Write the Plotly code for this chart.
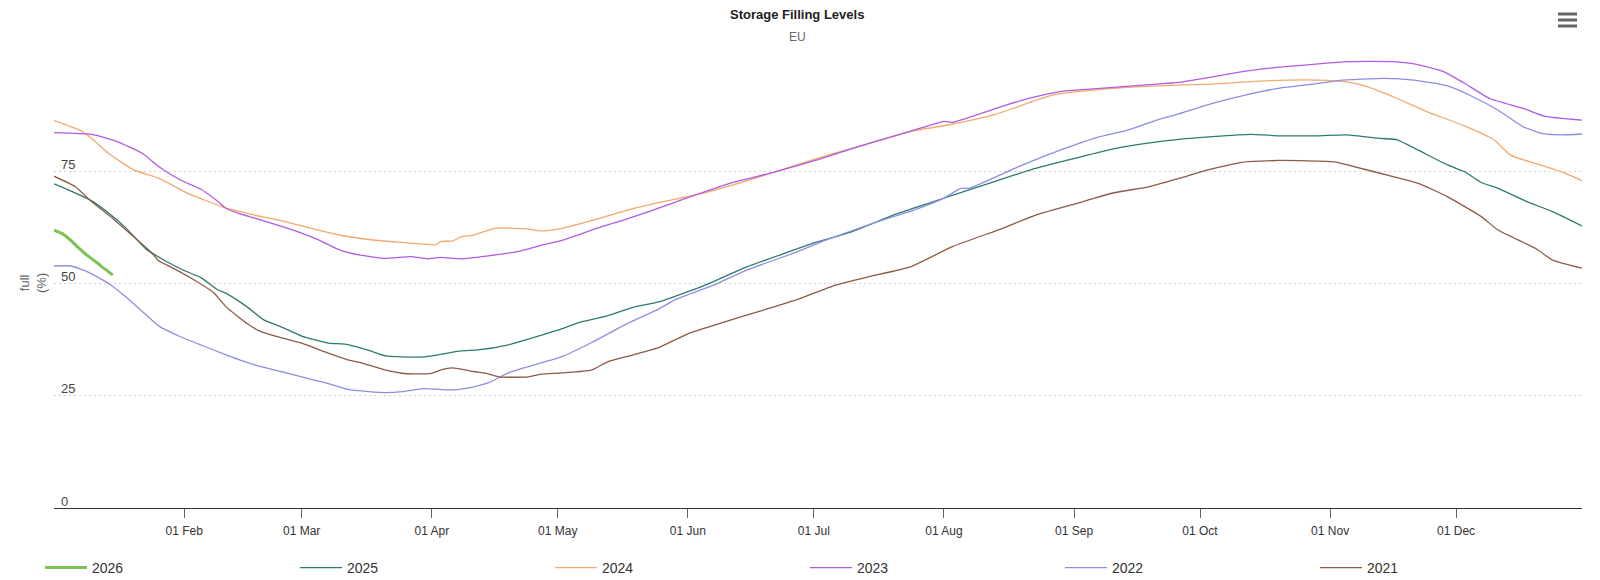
import datetime as dt
import plotly.graph_objects as go

BASE_YEAR = 2021  # common (non-leap) calendar used for the shared Jan..Dec axis

YEARS = ["2026", "2025", "2024", "2023", "2022", "2021"]

# day-of-year offsets (0 = 01 Jan) and storage filling level (%)
DAYS_2026 = [0, 2, 4, 6, 8, 10, 12, 14]
FULL_2026 = [61.9, 61.1, 59.6, 57.8, 56.2, 54.8, 53.3, 51.9]

DAYS_2025 = [0, 5, 9, 13, 17, 22, 27, 31, 35, 39, 41, 46, 50, 54, 59, 65, 70, 75, 79, 87,
             90, 97, 101, 108, 114, 120, 125, 131, 138, 144, 155, 165, 174, 182, 190, 201, 212, 224, 234, 245,
             253, 261, 268, 276, 285, 292, 301, 308, 316, 320, 325, 332, 336, 340, 344, 351, 357, 364]
FULL_2025 = [72.2, 70.2, 68.4, 65.7, 62.5, 57.6, 54.8, 52.9, 51.3, 48.6, 47.8, 44.8, 41.9, 40.4, 38.3, 36.8, 36.4, 35.1, 33.9, 33.6,
             33.9, 35.0, 35.2, 36.3, 37.9, 39.6, 41.3, 42.6, 44.7, 45.9, 49.6, 53.7, 56.7, 59.3, 61.5, 65.6, 69.0, 72.7, 75.7, 78.3,
             80.1, 81.3, 82.1, 82.7, 83.2, 82.9, 82.9, 83.1, 82.3, 82.0, 79.7, 76.4, 74.9, 72.5, 71.2, 68.2, 66.0, 62.8]

DAYS_2024 = [0, 6, 9, 13, 19, 25, 32, 35, 40, 46, 55, 62, 68, 75, 82, 89, 91, 92, 95, 97,
             100, 105, 112, 116, 121, 128, 136, 144, 155, 163, 172, 182, 193, 204, 213, 224, 238, 250, 258, 268,
             276, 284, 294, 301, 308, 313, 320, 327, 336, 343, 347, 354, 359, 364]
FULL_2024 = [86.3, 84.2, 82.3, 79.0, 75.3, 73.4, 70.0, 68.9, 67.1, 65.6, 63.8, 62.1, 60.8, 59.8, 59.2, 58.7, 58.6, 59.3, 59.5, 60.4,
             60.8, 62.3, 62.2, 61.7, 62.3, 64.0, 66.2, 68.0, 70.2, 72.3, 74.9, 77.9, 80.9, 83.9, 85.3, 87.6, 92.0, 93.3, 93.8, 94.2,
             94.4, 94.9, 95.3, 95.3, 94.9, 93.8, 91.2, 88.3, 85.1, 82.0, 78.6, 76.4, 74.9, 72.9]

DAYS_2023 = [0, 9, 15, 21, 25, 30, 35, 39, 41, 44, 48, 55, 59, 63, 68, 73, 79, 85, 89, 92,
             97, 103, 111, 116, 121, 130, 136, 142, 150, 161, 172, 182, 193, 204, 212, 214, 227, 233, 240, 250,
             261, 268, 274, 282, 289, 300, 308, 319, 324, 331, 336, 342, 350, 355, 364]
FULL_2023 = [83.6, 83.2, 81.6, 79.0, 76.0, 73.1, 71.0, 68.3, 66.7, 65.6, 64.5, 62.5, 61.2, 59.7, 57.5, 56.3, 55.6, 56.0, 55.5, 55.8,
             55.5, 56.1, 57.2, 58.5, 59.6, 62.5, 64.2, 66.1, 68.8, 72.3, 74.9, 77.6, 80.9, 83.9, 86.1, 85.9, 89.8, 91.4, 92.8, 93.5,
             94.3, 94.8, 95.7, 97.0, 97.9, 98.8, 99.4, 99.4, 98.9, 97.2, 94.6, 91.2, 89.0, 87.3, 86.4]

DAYS_2022 = [0, 4, 8, 13, 17, 21, 25, 30, 35, 41, 48, 54, 59, 65, 70, 75, 79, 83, 88, 92,
             95, 100, 104, 108, 113, 121, 128, 136, 144, 148, 157, 165, 176, 184, 195, 205, 212, 216, 218, 229,
             240, 248, 256, 263, 268, 276, 284, 292, 300, 306, 317, 324, 332, 338, 344, 350, 355, 359, 364]
FULL_2022 = [53.9, 53.9, 52.6, 50.0, 47.1, 43.8, 40.5, 38.2, 36.3, 34.1, 31.8, 30.4, 29.2, 27.8, 26.4, 25.9, 25.7, 25.9, 26.6, 26.4,
             26.3, 27.0, 28.1, 30.0, 31.5, 33.7, 36.8, 40.8, 44.3, 46.4, 49.6, 53.0, 56.7, 59.7, 63.4, 66.4, 69.0, 71.2, 71.2, 75.7,
             79.8, 82.4, 84.2, 86.5, 87.8, 90.1, 92.0, 93.5, 94.4, 95.2, 95.7, 95.3, 94.0, 91.6, 88.6, 84.9, 83.3, 83.1, 83.3]

DAYS_2021 = [0, 5, 9, 14, 19, 23, 25, 28, 33, 38, 41, 46, 49, 53, 59, 65, 70, 73, 79, 84,
             90, 92, 95, 100, 103, 106, 113, 116, 121, 128, 132, 138, 144, 151, 160, 168, 177, 186, 194, 204,
             214, 226, 234, 245, 252, 261, 268, 274, 279, 283, 292, 305, 309, 319, 325, 332, 340, 344, 353, 357, 364]
FULL_2021 = [73.9, 71.6, 68.2, 64.5, 60.4, 57.1, 55.0, 53.6, 51.0, 48.0, 44.8, 41.1, 39.4, 38.2, 36.7, 34.6, 33.0, 32.4, 30.7, 29.9,
             30.0, 30.7, 31.2, 30.4, 30.0, 29.2, 29.2, 29.8, 30.1, 30.7, 32.6, 34.1, 35.7, 38.8, 41.5, 43.8, 46.4, 49.6, 51.5, 53.7,
             58.2, 62.3, 65.3, 68.2, 70.1, 71.6, 73.4, 75.1, 76.2, 77.0, 77.4, 77.1, 76.2, 73.8, 72.3, 69.3, 64.9, 61.9, 57.8, 55.2, 53.4]

SERIES_DAYS = {"2026": DAYS_2026, "2025": DAYS_2025, "2024": DAYS_2024,
               "2023": DAYS_2023, "2022": DAYS_2022, "2021": DAYS_2021}
SERIES_FULL = {"2026": FULL_2026, "2025": FULL_2025, "2024": FULL_2024,
               "2023": FULL_2023, "2022": FULL_2022, "2021": FULL_2021}

COLORS = {"2026": "#7cc254", "2025": "#2e7b70", "2024": "#f4a86b",
          "2023": "#b05be3", "2022": "#8d8de6", "2021": "#8b5b45"}
WIDTHS = {"2026": 3, "2025": 1.3, "2024": 1.3, "2023": 1.3, "2022": 1.3, "2021": 1.3}

X_TICK_MONTHS = [2, 3, 4, 5, 6, 7, 8, 9, 10, 11, 12]
X_TICK_TEXT = ["01 Feb", "01 Mar", "01 Apr", "01 May", "01 Jun", "01 Jul",
               "01 Aug", "01 Sep", "01 Oct", "01 Nov", "01 Dec"]
Y_TICKS = [0, 25, 50, 75, 100]
Y_TICK_TEXT = ["0", "25", "50", "75", ""]

FONT = "Liberation Sans, Arial, Helvetica, sans-serif"

W, H = 1600, 580
L, R, T, B = 54, 1582, 59, 508


def fx(p):
    return (p - L) / (R - L)


def fy(p):
    return (B - p) / (B - T)


base = dt.date(BASE_YEAR, 1, 1)

fig = go.Figure()
for yr in YEARS:
    xs = [base + dt.timedelta(days=d) for d in SERIES_DAYS[yr]]
    fig.add_trace(go.Scatter(
        x=xs, y=SERIES_FULL[yr], mode="lines", name=yr,
        line=dict(color=COLORS[yr], width=WIDTHS[yr], shape="spline", smoothing=0.5),
    ))

fig.update_layout(
    width=W, height=H,
    margin=dict(l=L, r=W - R, t=T, b=H - B, pad=0, autoexpand=False),
    paper_bgcolor="white", plot_bgcolor="white",
    font=dict(family=FONT, color="#333"),
    showlegend=True,
    legend=dict(
        orientation="h", xref="paper", yref="paper",
        x=fx(40), y=fy(568), xanchor="left", yanchor="middle",
        font=dict(size=14, color="#333", family=FONT),
        itemwidth=42, entrywidth=198, entrywidthmode="pixels",
        bgcolor="rgba(0,0,0,0)", traceorder="normal",
    ),
    xaxis=dict(
        type="date",
        range=[base, base + dt.timedelta(days=364)],
        tickvals=[dt.date(BASE_YEAR, m, 1) for m in X_TICK_MONTHS],
        ticktext=X_TICK_TEXT,
        ticks="outside", ticklen=9, tickwidth=1, tickcolor="#666",
        showline=True, linecolor="#333", linewidth=1,
        showgrid=False, zeroline=False,
        tickfont=dict(size=12, color="#333", family=FONT),
        ticklabelstandoff=3,
        fixedrange=True,
    ),
    yaxis=dict(
        range=[0, 100],
        tickvals=Y_TICKS, ticktext=Y_TICK_TEXT,
        showgrid=True, gridcolor="#cfcfcf", griddash="2px,3px", gridwidth=1,
        zeroline=False, showline=False, ticks="",
        ticklabelposition="inside", ticklabelshift=-7, ticklabelstandoff=4,
        ticklabeloverflow="allow",
        tickfont=dict(size=13, color="#444", family=FONT),
        fixedrange=True,
    ),
    annotations=[
        dict(text="<b>Storage Filling Levels</b>", x=fx(797), y=fy(15), xref="paper", yref="paper",
             xanchor="center", yanchor="middle", showarrow=False,
             font=dict(size=13, color="#222", family=FONT)),
        dict(text="EU", x=fx(797), y=fy(37), xref="paper", yref="paper",
             xanchor="center", yanchor="middle", showarrow=False,
             font=dict(size=12, color="#666", family=FONT)),
        dict(text="full<br>(%)", x=fx(33), y=fy(283), xref="paper", yref="paper",
             xanchor="center", yanchor="middle", showarrow=False, textangle=-90,
             font=dict(size=13, color="#666", family=FONT)),
    ],
)

# export-menu (hamburger) icon in the top right corner
for yy in (14, 20, 26):
    fig.add_shape(type="line", xref="paper", yref="paper",
                  x0=fx(1558), x1=fx(1577), y0=fy(yy), y1=fy(yy),
                  line=dict(color="#666", width=3))

fig.write_html(
    "out.html",
    config={"displayModeBar": False},
    post_script="document.body.style.margin='0';document.body.style.overflow='hidden';",
)
